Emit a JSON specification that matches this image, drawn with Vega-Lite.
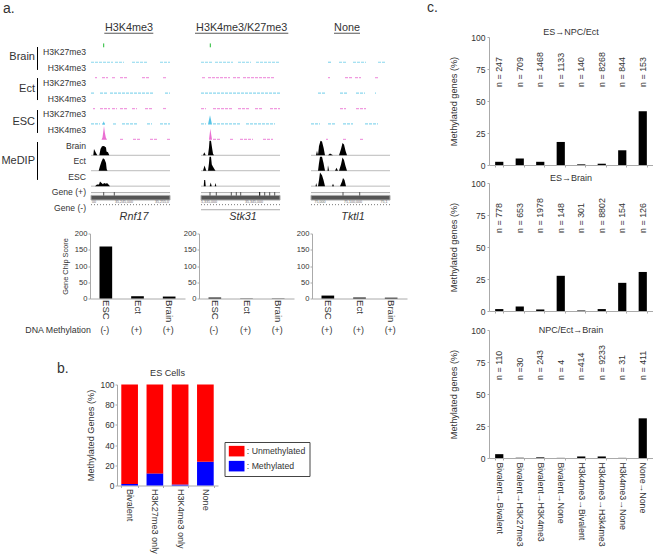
{"$schema":"https://vega.github.io/schema/vega-lite/v6.json","padding":0,"background":"white","autosize":{"type":"pad"},
"config":{"view":{"stroke":null},"font":"Liberation Sans","title":{"fontWeight":"normal","color":"#333","font":"Liberation Sans"},"axis":{"domainColor":"#aaa","tickColor":"#aaa","labelColor":"#333","titleColor":"#333","labelFont":"Liberation Sans","titleFont":"Liberation Sans","titleFontWeight":"normal","grid":false,"tickSize":2,"labelPadding":1,"labelOverlap":false},"text":{"color":"#333","font":"Liberation Sans"}},
"datasets":{
"labels":[
{"kind":"letter","col":"group","idx":-1.76,"text":"a."},
{"kind":"group","col":"group","idx":1.32,"text":"Brain"},{"kind":"group","col":"group","idx":3.37,"text":"Ect"},{"kind":"group","col":"group","idx":5.49,"text":"ESC"},{"kind":"group","col":"group","idx":7.99,"text":"MeDIP"},
{"kind":"bar","col":"group","idx":0.68,"idx2":2.15},{"kind":"bar","col":"group","idx":2.67,"idx2":4.08},{"kind":"bar","col":"group","idx":4.72,"idx2":6.19},{"kind":"bar","col":"group","idx":6.77,"idx2":9.2},
{"kind":"track","col":"track","idx":1,"text":"H3K27me3"},{"kind":"track","col":"track","idx":2,"text":"H3K4me3"},{"kind":"track","col":"track","idx":3,"text":"H3K27me3"},{"kind":"track","col":"track","idx":4,"text":"H3K4me3"},{"kind":"track","col":"track","idx":5,"text":"H3K27me3"},{"kind":"track","col":"track","idx":6,"text":"H3K4me3"},{"kind":"track","col":"track","idx":7,"text":"Brain"},{"kind":"track","col":"track","idx":8,"text":"Ect"},{"kind":"track","col":"track","idx":9,"text":"ESC"},{"kind":"track","col":"track","idx":10,"text":"Gene (+)"},{"kind":"track","col":"track","idx":11,"text":"Gene (-)"}],
"tracks":[
{"gene":"Rnf17","row":"header","kind":"header","pos":38,"value":0.23,"text":"H3K4me3"},{"gene":"Stk31","row":"header","kind":"header","pos":40.7,"value":0.23,"text":"H3K4me3/K27me3"},{"gene":"Tktl1","row":"header","kind":"header","pos":36,"value":0.23,"text":"None"},
{"gene":"Rnf17","row":"header","kind":"line","series":"dark","start":13.3,"end":62.3,"value":-0.09},{"gene":"Stk31","row":"header","kind":"line","series":"dark","start":-6,"end":87.3,"value":-0.09},{"gene":"Tktl1","row":"header","kind":"line","series":"dark","start":23,"end":49,"value":-0.09},
{"gene":"Rnf17","row":"t1","kind":"tick","series":"marker","pos":12.7,"value":0,"value2":0.25},{"gene":"Stk31","row":"t1","kind":"tick","series":"marker","pos":9.3,"value":0,"value2":0.25},
{"gene":"Rnf17","row":"t2","kind":"dash","series":"H3K4me3","start":0,"end":22},{"gene":"Rnf17","row":"t2","kind":"dash","series":"H3K4me3","start":24,"end":33},{"gene":"Rnf17","row":"t2","kind":"dash","series":"H3K4me3","start":41,"end":57},{"gene":"Rnf17","row":"t2","kind":"dash","series":"H3K4me3","start":69,"end":79},
{"gene":"Rnf17","row":"t3","kind":"dash","series":"H3K27me3","start":4,"end":6},{"gene":"Rnf17","row":"t3","kind":"dash","series":"H3K27me3","start":11,"end":17},{"gene":"Rnf17","row":"t3","kind":"dash","series":"H3K27me3","start":21,"end":24},{"gene":"Rnf17","row":"t3","kind":"dash","series":"H3K27me3","start":29,"end":37},{"gene":"Rnf17","row":"t3","kind":"dash","series":"H3K27me3","start":51,"end":59},{"gene":"Rnf17","row":"t3","kind":"dash","series":"H3K27me3","start":72,"end":75},
{"gene":"Rnf17","row":"t4","kind":"dash","series":"H3K4me3","start":0,"end":4},{"gene":"Rnf17","row":"t4","kind":"dash","series":"H3K4me3","start":9,"end":16},{"gene":"Rnf17","row":"t4","kind":"dash","series":"H3K4me3","start":19,"end":62},{"gene":"Rnf17","row":"t4","kind":"dash","series":"H3K4me3","start":74,"end":79},
{"gene":"Rnf17","row":"t5","kind":"dash","series":"H3K27me3","start":2,"end":4},{"gene":"Rnf17","row":"t5","kind":"dash","series":"H3K27me3","start":9,"end":19},{"gene":"Rnf17","row":"t5","kind":"dash","series":"H3K27me3","start":21,"end":26},{"gene":"Rnf17","row":"t5","kind":"dash","series":"H3K27me3","start":29,"end":37},{"gene":"Rnf17","row":"t5","kind":"dash","series":"H3K27me3","start":41,"end":46},{"gene":"Rnf17","row":"t5","kind":"dash","series":"H3K27me3","start":54,"end":61},{"gene":"Rnf17","row":"t5","kind":"dash","series":"H3K27me3","start":72,"end":76},
{"gene":"Rnf17","row":"t6","kind":"dash","series":"H3K4me3","start":0,"end":9},{"gene":"Rnf17","row":"t6","kind":"dash","series":"H3K4me3","start":11,"end":14},{"gene":"Rnf17","row":"t6","kind":"dash","series":"H3K4me3","start":22,"end":26},{"gene":"Rnf17","row":"t6","kind":"dash","series":"H3K4me3","start":31,"end":47},{"gene":"Rnf17","row":"t6","kind":"dash","series":"H3K4me3","start":56,"end":61},{"gene":"Rnf17","row":"t6","kind":"dash","series":"H3K4me3","start":69,"end":79},
{"gene":"Rnf17","row":"t7","kind":"dash","series":"H3K27me3","start":29,"end":32},{"gene":"Rnf17","row":"t7","kind":"dash","series":"H3K27me3","start":42,"end":49},{"gene":"Rnf17","row":"t7","kind":"dash","series":"H3K27me3","start":59,"end":66},{"gene":"Rnf17","row":"t7","kind":"dash","series":"H3K27me3","start":76,"end":79},
{"gene":"Rnf17","row":"t6","kind":"peak","series":"H3K4me3","peak":"a","pos":11.5,"value":0},{"gene":"Rnf17","row":"t6","kind":"peak","series":"H3K4me3","peak":"a","pos":12.7,"value":0.2},{"gene":"Rnf17","row":"t6","kind":"peak","series":"H3K4me3","peak":"a","pos":14,"value":0},
{"gene":"Rnf17","row":"t7","kind":"peak","series":"H3K27me3","peak":"a","pos":10.5,"value":0},{"gene":"Rnf17","row":"t7","kind":"peak","series":"H3K27me3","peak":"a","pos":11.5,"value":0.15},{"gene":"Rnf17","row":"t7","kind":"peak","series":"H3K27me3","peak":"a","pos":12.2,"value":0.5},{"gene":"Rnf17","row":"t7","kind":"peak","series":"H3K27me3","peak":"a","pos":13,"value":0.9},{"gene":"Rnf17","row":"t7","kind":"peak","series":"H3K27me3","peak":"a","pos":13.8,"value":0.5},{"gene":"Rnf17","row":"t7","kind":"peak","series":"H3K27me3","peak":"a","pos":14.8,"value":0.15},{"gene":"Rnf17","row":"t7","kind":"peak","series":"H3K27me3","peak":"a","pos":16,"value":0},
{"gene":"Rnf17","row":"m1","kind":"base","start":0,"end":79,"value":0},{"gene":"Rnf17","row":"m2","kind":"base","start":0,"end":79,"value":0},{"gene":"Rnf17","row":"m3","kind":"base","start":0,"end":79,"value":0},
{"gene":"Stk31","row":"m1","kind":"base","start":0,"end":79,"value":0},{"gene":"Stk31","row":"m2","kind":"base","start":0,"end":79,"value":0},{"gene":"Stk31","row":"m3","kind":"base","start":0,"end":79,"value":0},
{"gene":"Tktl1","row":"m1","kind":"base","start":0,"end":79,"value":0},{"gene":"Tktl1","row":"m2","kind":"base","start":0,"end":79,"value":0},{"gene":"Tktl1","row":"m3","kind":"base","start":0,"end":79,"value":0},
{"gene":"Rnf17","row":"m1","kind":"peak","series":"DNA","peak":"a","pos":2.3,"value":0},{"gene":"Rnf17","row":"m1","kind":"peak","series":"DNA","peak":"a","pos":3,"value":0.4},{"gene":"Rnf17","row":"m1","kind":"peak","series":"DNA","peak":"a","pos":5,"value":0.15},{"gene":"Rnf17","row":"m1","kind":"peak","series":"DNA","peak":"a","pos":6.3,"value":0},
{"gene":"Rnf17","row":"m1","kind":"peak","series":"DNA","peak":"b","pos":8.3,"value":0},{"gene":"Rnf17","row":"m1","kind":"peak","series":"DNA","peak":"b","pos":9.5,"value":0.4},{"gene":"Rnf17","row":"m1","kind":"peak","series":"DNA","peak":"b","pos":11,"value":0.58},{"gene":"Rnf17","row":"m1","kind":"peak","series":"DNA","peak":"b","pos":13,"value":0.6},{"gene":"Rnf17","row":"m1","kind":"peak","series":"DNA","peak":"b","pos":15,"value":0.5},{"gene":"Rnf17","row":"m1","kind":"peak","series":"DNA","peak":"b","pos":15.5,"value":0.25},{"gene":"Rnf17","row":"m1","kind":"peak","series":"DNA","peak":"b","pos":17,"value":0.2},{"gene":"Rnf17","row":"m1","kind":"peak","series":"DNA","peak":"b","pos":18.3,"value":0},
{"gene":"Rnf17","row":"m2","kind":"peak","series":"DNA","peak":"a","pos":7.7,"value":0},{"gene":"Rnf17","row":"m2","kind":"peak","series":"DNA","peak":"a","pos":9,"value":0.3},{"gene":"Rnf17","row":"m2","kind":"peak","series":"DNA","peak":"a","pos":10.5,"value":0.6},{"gene":"Rnf17","row":"m2","kind":"peak","series":"DNA","peak":"a","pos":12,"value":0.8},{"gene":"Rnf17","row":"m2","kind":"peak","series":"DNA","peak":"a","pos":13.5,"value":0.75},{"gene":"Rnf17","row":"m2","kind":"peak","series":"DNA","peak":"a","pos":15,"value":0.5},{"gene":"Rnf17","row":"m2","kind":"peak","series":"DNA","peak":"a","pos":15.7,"value":0.1},{"gene":"Rnf17","row":"m2","kind":"peak","series":"DNA","peak":"a","pos":16.5,"value":0},
{"gene":"Rnf17","row":"m3","kind":"peak","series":"DNA","peak":"a","pos":4,"value":0},{"gene":"Rnf17","row":"m3","kind":"peak","series":"DNA","peak":"a","pos":6,"value":0.1},{"gene":"Rnf17","row":"m3","kind":"peak","series":"DNA","peak":"a","pos":8,"value":0.1},{"gene":"Rnf17","row":"m3","kind":"peak","series":"DNA","peak":"a","pos":9,"value":0.3},{"gene":"Rnf17","row":"m3","kind":"peak","series":"DNA","peak":"a","pos":10,"value":0.24},{"gene":"Rnf17","row":"m3","kind":"peak","series":"DNA","peak":"a","pos":12,"value":0.12},{"gene":"Rnf17","row":"m3","kind":"peak","series":"DNA","peak":"a","pos":13,"value":0.2},{"gene":"Rnf17","row":"m3","kind":"peak","series":"DNA","peak":"a","pos":15,"value":0.15},{"gene":"Rnf17","row":"m3","kind":"peak","series":"DNA","peak":"a","pos":16,"value":0.2},{"gene":"Rnf17","row":"m3","kind":"peak","series":"DNA","peak":"a","pos":17.5,"value":0.1},{"gene":"Rnf17","row":"m3","kind":"peak","series":"DNA","peak":"a","pos":19,"value":0},
{"gene":"Stk31","row":"t2","kind":"dash","series":"H3K4me3","start":0,"end":12},{"gene":"Stk31","row":"t2","kind":"dash","series":"H3K4me3","start":14,"end":32},{"gene":"Stk31","row":"t2","kind":"dash","series":"H3K4me3","start":37,"end":50},{"gene":"Stk31","row":"t2","kind":"dash","series":"H3K4me3","start":55,"end":79},
{"gene":"Stk31","row":"t3","kind":"dash","series":"H3K27me3","start":1,"end":5},{"gene":"Stk31","row":"t3","kind":"dash","series":"H3K27me3","start":7,"end":29},{"gene":"Stk31","row":"t3","kind":"dash","series":"H3K27me3","start":32,"end":39},{"gene":"Stk31","row":"t3","kind":"dash","series":"H3K27me3","start":42,"end":49},{"gene":"Stk31","row":"t3","kind":"dash","series":"H3K27me3","start":50,"end":74},
{"gene":"Stk31","row":"t4","kind":"dash","series":"H3K4me3","start":0,"end":79},
{"gene":"Stk31","row":"t5","kind":"dash","series":"H3K27me3","start":0,"end":5},{"gene":"Stk31","row":"t5","kind":"dash","series":"H3K27me3","start":12,"end":32},{"gene":"Stk31","row":"t5","kind":"dash","series":"H3K27me3","start":37,"end":49},{"gene":"Stk31","row":"t5","kind":"dash","series":"H3K27me3","start":54,"end":62},{"gene":"Stk31","row":"t5","kind":"dash","series":"H3K27me3","start":69,"end":79},
{"gene":"Stk31","row":"t6","kind":"dash","series":"H3K4me3","start":0,"end":5},{"gene":"Stk31","row":"t6","kind":"dash","series":"H3K4me3","start":12,"end":39},{"gene":"Stk31","row":"t6","kind":"dash","series":"H3K4me3","start":45,"end":74},
{"gene":"Stk31","row":"t7","kind":"dash","series":"H3K27me3","start":12,"end":19},{"gene":"Stk31","row":"t7","kind":"dash","series":"H3K27me3","start":29,"end":32},{"gene":"Stk31","row":"t7","kind":"dash","series":"H3K27me3","start":39,"end":52},{"gene":"Stk31","row":"t7","kind":"dash","series":"H3K27me3","start":62,"end":72},
{"gene":"Stk31","row":"t6","kind":"peak","series":"H3K4me3","peak":"a","pos":7,"value":0},{"gene":"Stk31","row":"t6","kind":"peak","series":"H3K4me3","peak":"a","pos":8,"value":0.3},{"gene":"Stk31","row":"t6","kind":"peak","series":"H3K4me3","peak":"a","pos":9,"value":0.6},{"gene":"Stk31","row":"t6","kind":"peak","series":"H3K4me3","peak":"a","pos":10,"value":0.3},{"gene":"Stk31","row":"t6","kind":"peak","series":"H3K4me3","peak":"a","pos":11,"value":0},
{"gene":"Stk31","row":"t7","kind":"peak","series":"H3K27me3","peak":"a","pos":8,"value":0},{"gene":"Stk31","row":"t7","kind":"peak","series":"H3K27me3","peak":"a","pos":9.3,"value":0.72},{"gene":"Stk31","row":"t7","kind":"peak","series":"H3K27me3","peak":"a","pos":11,"value":0},
{"gene":"Stk31","row":"m1","kind":"peak","series":"DNA","peak":"a","pos":7,"value":0},{"gene":"Stk31","row":"m1","kind":"peak","series":"DNA","peak":"a","pos":8,"value":0.5},{"gene":"Stk31","row":"m1","kind":"peak","series":"DNA","peak":"a","pos":8.5,"value":0.95},{"gene":"Stk31","row":"m1","kind":"peak","series":"DNA","peak":"a","pos":10,"value":0.95},{"gene":"Stk31","row":"m1","kind":"peak","series":"DNA","peak":"a","pos":11,"value":0.5},{"gene":"Stk31","row":"m1","kind":"peak","series":"DNA","peak":"a","pos":12,"value":0.1},{"gene":"Stk31","row":"m1","kind":"peak","series":"DNA","peak":"a","pos":13,"value":0},
{"gene":"Stk31","row":"m1","kind":"peak","series":"DNA","peak":"b","pos":2,"value":0},{"gene":"Stk31","row":"m1","kind":"peak","series":"DNA","peak":"b","pos":3.3,"value":0.2},{"gene":"Stk31","row":"m1","kind":"peak","series":"DNA","peak":"b","pos":4.7,"value":0},
{"gene":"Stk31","row":"m2","kind":"peak","series":"DNA","peak":"a","pos":7,"value":0},{"gene":"Stk31","row":"m2","kind":"peak","series":"DNA","peak":"a","pos":8,"value":0.5},{"gene":"Stk31","row":"m2","kind":"peak","series":"DNA","peak":"a","pos":8.5,"value":0.9},{"gene":"Stk31","row":"m2","kind":"peak","series":"DNA","peak":"a","pos":10,"value":0.9},{"gene":"Stk31","row":"m2","kind":"peak","series":"DNA","peak":"a","pos":10.8,"value":0.4},{"gene":"Stk31","row":"m2","kind":"peak","series":"DNA","peak":"a","pos":12,"value":0.25},{"gene":"Stk31","row":"m2","kind":"peak","series":"DNA","peak":"a","pos":13.5,"value":0.1},{"gene":"Stk31","row":"m2","kind":"peak","series":"DNA","peak":"a","pos":14.5,"value":0},
{"gene":"Stk31","row":"m2","kind":"peak","series":"DNA","peak":"b","pos":2,"value":0},{"gene":"Stk31","row":"m2","kind":"peak","series":"DNA","peak":"b","pos":3.5,"value":0.33},{"gene":"Stk31","row":"m2","kind":"peak","series":"DNA","peak":"b","pos":5.3,"value":0},
{"gene":"Stk31","row":"m3","kind":"peak","series":"DNA","peak":"a","pos":2.7,"value":0},{"gene":"Stk31","row":"m3","kind":"peak","series":"DNA","peak":"a","pos":3.2,"value":0.4},{"gene":"Stk31","row":"m3","kind":"peak","series":"DNA","peak":"a","pos":4.2,"value":0.4},{"gene":"Stk31","row":"m3","kind":"peak","series":"DNA","peak":"a","pos":4.7,"value":0},
{"gene":"Stk31","row":"m3","kind":"peak","series":"DNA","peak":"b","pos":8.7,"value":0},{"gene":"Stk31","row":"m3","kind":"peak","series":"DNA","peak":"b","pos":9.7,"value":0.24},{"gene":"Stk31","row":"m3","kind":"peak","series":"DNA","peak":"b","pos":10.7,"value":0},
{"gene":"Stk31","row":"m3","kind":"peak","series":"DNA","peak":"c","pos":13.7,"value":0},{"gene":"Stk31","row":"m3","kind":"peak","series":"DNA","peak":"c","pos":14.5,"value":0.2},{"gene":"Stk31","row":"m3","kind":"peak","series":"DNA","peak":"c","pos":15.3,"value":0},
{"gene":"Tktl1","row":"t2","kind":"dash","series":"H3K4me3","start":17,"end":20},{"gene":"Tktl1","row":"t2","kind":"dash","series":"H3K4me3","start":28,"end":35},{"gene":"Tktl1","row":"t2","kind":"dash","series":"H3K4me3","start":42,"end":55},{"gene":"Tktl1","row":"t2","kind":"dash","series":"H3K4me3","start":67,"end":75},
{"gene":"Tktl1","row":"t3","kind":"dash","series":"H3K27me3","start":17,"end":19},{"gene":"Tktl1","row":"t3","kind":"dash","series":"H3K27me3","start":34,"end":42},{"gene":"Tktl1","row":"t3","kind":"dash","series":"H3K27me3","start":44,"end":50},{"gene":"Tktl1","row":"t3","kind":"dash","series":"H3K27me3","start":64,"end":67},
{"gene":"Tktl1","row":"t4","kind":"dash","series":"H3K4me3","start":7,"end":14},{"gene":"Tktl1","row":"t4","kind":"dash","series":"H3K4me3","start":29,"end":37},{"gene":"Tktl1","row":"t4","kind":"dash","series":"H3K4me3","start":45,"end":54},{"gene":"Tktl1","row":"t4","kind":"dash","series":"H3K4me3","start":64,"end":65},
{"gene":"Tktl1","row":"t5","kind":"dash","series":"H3K27me3","start":29,"end":35},{"gene":"Tktl1","row":"t5","kind":"dash","series":"H3K27me3","start":45,"end":55},
{"gene":"Tktl1","row":"t6","kind":"dash","series":"H3K4me3","start":0,"end":9},{"gene":"Tktl1","row":"t6","kind":"dash","series":"H3K4me3","start":17,"end":25},{"gene":"Tktl1","row":"t6","kind":"dash","series":"H3K4me3","start":32,"end":42},{"gene":"Tktl1","row":"t6","kind":"dash","series":"H3K4me3","start":54,"end":67},
{"gene":"Tktl1","row":"t7","kind":"dash","series":"H3K27me3","start":15,"end":17},{"gene":"Tktl1","row":"t7","kind":"dash","series":"H3K27me3","start":32,"end":35},{"gene":"Tktl1","row":"t7","kind":"dash","series":"H3K27me3","start":49,"end":52},
{"gene":"Tktl1","row":"m1","kind":"peak","series":"DNA","peak":"a","pos":7,"value":0},{"gene":"Tktl1","row":"m1","kind":"peak","series":"DNA","peak":"a","pos":8,"value":0.6},{"gene":"Tktl1","row":"m1","kind":"peak","series":"DNA","peak":"a","pos":9.5,"value":0.95},{"gene":"Tktl1","row":"m1","kind":"peak","series":"DNA","peak":"a","pos":11,"value":0.9},{"gene":"Tktl1","row":"m1","kind":"peak","series":"DNA","peak":"a","pos":12.5,"value":0.5},{"gene":"Tktl1","row":"m1","kind":"peak","series":"DNA","peak":"a","pos":14,"value":0},
{"gene":"Tktl1","row":"m1","kind":"peak","series":"DNA","peak":"b","pos":5,"value":0},{"gene":"Tktl1","row":"m1","kind":"peak","series":"DNA","peak":"b","pos":6,"value":0.3},{"gene":"Tktl1","row":"m1","kind":"peak","series":"DNA","peak":"b","pos":7,"value":0},
{"gene":"Tktl1","row":"m1","kind":"peak","series":"DNA","peak":"c","pos":17,"value":0},{"gene":"Tktl1","row":"m1","kind":"peak","series":"DNA","peak":"c","pos":19,"value":0.12},{"gene":"Tktl1","row":"m1","kind":"peak","series":"DNA","peak":"c","pos":22,"value":0},
{"gene":"Tktl1","row":"m1","kind":"peak","series":"DNA","peak":"d","pos":28,"value":0},{"gene":"Tktl1","row":"m1","kind":"peak","series":"DNA","peak":"d","pos":30,"value":0.4},{"gene":"Tktl1","row":"m1","kind":"peak","series":"DNA","peak":"d","pos":31.5,"value":0.8},{"gene":"Tktl1","row":"m1","kind":"peak","series":"DNA","peak":"d","pos":33,"value":0.7},{"gene":"Tktl1","row":"m1","kind":"peak","series":"DNA","peak":"d","pos":34.5,"value":0.3},{"gene":"Tktl1","row":"m1","kind":"peak","series":"DNA","peak":"d","pos":36,"value":0},
{"gene":"Tktl1","row":"m2","kind":"peak","series":"DNA","peak":"a","pos":7,"value":0},{"gene":"Tktl1","row":"m2","kind":"peak","series":"DNA","peak":"a","pos":8,"value":0.5},{"gene":"Tktl1","row":"m2","kind":"peak","series":"DNA","peak":"a","pos":9,"value":0.9},{"gene":"Tktl1","row":"m2","kind":"peak","series":"DNA","peak":"a","pos":11,"value":0.9},{"gene":"Tktl1","row":"m2","kind":"peak","series":"DNA","peak":"a","pos":12.5,"value":0.5},{"gene":"Tktl1","row":"m2","kind":"peak","series":"DNA","peak":"a","pos":14,"value":0},
{"gene":"Tktl1","row":"m2","kind":"peak","series":"DNA","peak":"b","pos":16.5,"value":0},{"gene":"Tktl1","row":"m2","kind":"peak","series":"DNA","peak":"b","pos":17,"value":0.35},{"gene":"Tktl1","row":"m2","kind":"peak","series":"DNA","peak":"b","pos":18,"value":0},
{"gene":"Tktl1","row":"m2","kind":"peak","series":"DNA","peak":"c","pos":24,"value":0},{"gene":"Tktl1","row":"m2","kind":"peak","series":"DNA","peak":"c","pos":25.5,"value":0.2},{"gene":"Tktl1","row":"m2","kind":"peak","series":"DNA","peak":"c","pos":27,"value":0},
{"gene":"Tktl1","row":"m2","kind":"peak","series":"DNA","peak":"d","pos":28,"value":0},{"gene":"Tktl1","row":"m2","kind":"peak","series":"DNA","peak":"d","pos":30,"value":0.4},{"gene":"Tktl1","row":"m2","kind":"peak","series":"DNA","peak":"d","pos":31.5,"value":0.85},{"gene":"Tktl1","row":"m2","kind":"peak","series":"DNA","peak":"d","pos":33,"value":0.7},{"gene":"Tktl1","row":"m2","kind":"peak","series":"DNA","peak":"d","pos":34.5,"value":0.3},{"gene":"Tktl1","row":"m2","kind":"peak","series":"DNA","peak":"d","pos":36,"value":0},
{"gene":"Tktl1","row":"m3","kind":"peak","series":"DNA","peak":"a","pos":7,"value":0},{"gene":"Tktl1","row":"m3","kind":"peak","series":"DNA","peak":"a","pos":8,"value":0.4},{"gene":"Tktl1","row":"m3","kind":"peak","series":"DNA","peak":"a","pos":9,"value":0.88},{"gene":"Tktl1","row":"m3","kind":"peak","series":"DNA","peak":"a","pos":11,"value":0.7},{"gene":"Tktl1","row":"m3","kind":"peak","series":"DNA","peak":"a","pos":12.5,"value":0.4},{"gene":"Tktl1","row":"m3","kind":"peak","series":"DNA","peak":"a","pos":14,"value":0},
{"gene":"Tktl1","row":"m3","kind":"peak","series":"DNA","peak":"b","pos":4.5,"value":0},{"gene":"Tktl1","row":"m3","kind":"peak","series":"DNA","peak":"b","pos":5.2,"value":0.2},{"gene":"Tktl1","row":"m3","kind":"peak","series":"DNA","peak":"b","pos":6,"value":0},
{"gene":"Tktl1","row":"m3","kind":"peak","series":"DNA","peak":"c","pos":21,"value":0},{"gene":"Tktl1","row":"m3","kind":"peak","series":"DNA","peak":"c","pos":22,"value":0.15},{"gene":"Tktl1","row":"m3","kind":"peak","series":"DNA","peak":"c","pos":23,"value":0},
{"gene":"Tktl1","row":"m3","kind":"peak","series":"DNA","peak":"d","pos":29,"value":0},{"gene":"Tktl1","row":"m3","kind":"peak","series":"DNA","peak":"d","pos":31,"value":0.3},{"gene":"Tktl1","row":"m3","kind":"peak","series":"DNA","peak":"d","pos":32,"value":0.52},{"gene":"Tktl1","row":"m3","kind":"peak","series":"DNA","peak":"d","pos":33.5,"value":0.4},{"gene":"Tktl1","row":"m3","kind":"peak","series":"DNA","peak":"d","pos":35,"value":0},
{"gene":"Rnf17","row":"plus","kind":"line","series":"base","start":0,"end":79,"value":0.58},{"gene":"Stk31","row":"plus","kind":"line","series":"base","start":0,"end":79,"value":0.58},{"gene":"Tktl1","row":"plus","kind":"line","series":"base","start":0,"end":79,"value":0.58},
{"gene":"Rnf17","row":"plus","kind":"band","start":0,"end":79,"value":0.1,"value2":0.4},{"gene":"Stk31","row":"plus","kind":"band","start":0,"end":79,"value":0.1,"value2":0.4},{"gene":"Tktl1","row":"plus","kind":"band","start":0,"end":79,"value":0.1,"value2":0.4},
{"gene":"Rnf17","row":"plus","kind":"tick","series":"dark","pos":12.7,"value":0.38,"value2":0.62},{"gene":"Rnf17","row":"plus","kind":"tick","series":"dark","pos":23.3,"value":0.38,"value2":0.62},
{"gene":"Stk31","row":"plus","kind":"tick","series":"dark","pos":9,"value":0.38,"value2":0.62},{"gene":"Stk31","row":"plus","kind":"tick","series":"dark","pos":15.3,"value":0.38,"value2":0.62},{"gene":"Stk31","row":"plus","kind":"tick","series":"dark","pos":30.3,"value":0.38,"value2":0.62},{"gene":"Stk31","row":"plus","kind":"tick","series":"dark","pos":35.3,"value":0.38,"value2":0.62},{"gene":"Stk31","row":"plus","kind":"tick","series":"dark","pos":39.7,"value":0.38,"value2":0.62},{"gene":"Stk31","row":"plus","kind":"tick","series":"DNA","pos":58.7,"value":0.38,"value2":0.62},{"gene":"Stk31","row":"plus","kind":"tick","series":"dark","pos":63.7,"value":0.38,"value2":0.62},{"gene":"Stk31","row":"plus","kind":"tick","series":"dark","pos":68.7,"value":0.38,"value2":0.62},{"gene":"Stk31","row":"plus","kind":"tick","series":"dark","pos":73.7,"value":0.38,"value2":0.62},
{"gene":"Tktl1","row":"plus","kind":"tick","series":"dark","pos":32,"value":0.38,"value2":0.62},{"gene":"Tktl1","row":"plus","kind":"tick","series":"dark","pos":48.7,"value":0.38,"value2":0.62},
{"gene":"Rnf17","row":"minus","kind":"ruler","start":0,"end":79,"value":0.8},{"gene":"Stk31","row":"minus","kind":"ruler","start":0,"end":79,"value":0.8},{"gene":"Tktl1","row":"minus","kind":"ruler","start":0,"end":79,"value":0.8},
{"gene":"Stk31","row":"minus","kind":"line","series":"base","start":0,"end":79,"value":0.47},
{"gene":"Rnf17","row":"minus","kind":"tiny","pos":3,"value":0.96,"text":"00"},{"gene":"Rnf17","row":"minus","kind":"tiny","pos":33,"value":0.96,"text":"35,245,000"},{"gene":"Rnf17","row":"minus","kind":"tiny","pos":71,"value":0.96,"text":"35,255,0"},
{"gene":"Stk31","row":"minus","kind":"tiny","pos":8,"value":0.96,"text":"5,335,000"},{"gene":"Stk31","row":"minus","kind":"tiny","pos":53,"value":0.96,"text":"35,345,000"},
{"gene":"Tktl1","row":"minus","kind":"tiny","pos":9,"value":0.96,"text":"75,000"},{"gene":"Tktl1","row":"minus","kind":"tiny","pos":42,"value":0.96,"text":"75,100,000"},{"gene":"Tktl1","row":"minus","kind":"tiny","pos":73,"value":0.96,"text":"75,1"},
{"gene":"Rnf17","row":"minus","kind":"name","pos":43,"value":0,"text":"Rnf17"},{"gene":"Stk31","row":"minus","kind":"name","pos":42,"value":0,"text":"Stk31"},{"gene":"Tktl1","row":"minus","kind":"name","pos":42,"value":0,"text":"Tktl1"}
],
"chip":[
{"gene":"Rnf17","tissue":"ESC","score":160,"meth":"(-)"},{"gene":"Rnf17","tissue":"Ect","score":7,"meth":"(+)"},{"gene":"Rnf17","tissue":"Brain","score":6,"meth":"(+)"},
{"gene":"Stk31","tissue":"ESC","score":3,"meth":"(-)"},{"gene":"Stk31","tissue":"Ect","score":0.7,"meth":"(+)"},{"gene":"Stk31","tissue":"Brain","score":0.7,"meth":"(+)"},
{"gene":"Tktl1","tissue":"ESC","score":9,"meth":"(+)"},{"gene":"Tktl1","tissue":"Ect","score":3,"meth":"(+)"},{"gene":"Tktl1","tissue":"Brain","score":2.5,"meth":"(+)"}],
"meth":[
{"panel":"ES→NPC/Ect","trans":"Bivalent→Bivalent","pct":2.5,"n":"n = 247"},{"panel":"ES→NPC/Ect","trans":"Bivalent→H3K27me3","pct":5,"n":"n = 709"},{"panel":"ES→NPC/Ect","trans":"Bivalent→H3K4me3","pct":2.5,"n":"n = 1468"},{"panel":"ES→NPC/Ect","trans":"Bivalent→None","pct":18,"n":"n = 1133"},{"panel":"ES→NPC/Ect","trans":"H3k4me3→Bivalent","pct":0.5,"n":"n = 140"},{"panel":"ES→NPC/Ect","trans":"H3k4me3→H3k4me3","pct":1,"n":"n = 8268"},{"panel":"ES→NPC/Ect","trans":"H3k4me3→None","pct":11.5,"n":"n = 844"},{"panel":"ES→NPC/Ect","trans":"None→None","pct":42,"n":"n = 153"},
{"panel":"ES→Brain","trans":"Bivalent→Bivalent","pct":1.5,"n":"n = 778"},{"panel":"ES→Brain","trans":"Bivalent→H3K27me3","pct":3.5,"n":"n = 653"},{"panel":"ES→Brain","trans":"Bivalent→H3K4me3","pct":1.2,"n":"n = 1978"},{"panel":"ES→Brain","trans":"Bivalent→None","pct":27.5,"n":"n = 148"},{"panel":"ES→Brain","trans":"H3k4me3→Bivalent","pct":0.4,"n":"n = 301"},{"panel":"ES→Brain","trans":"H3k4me3→H3k4me3","pct":1.5,"n":"n = 8802"},{"panel":"ES→Brain","trans":"H3k4me3→None","pct":22,"n":"n = 154"},{"panel":"ES→Brain","trans":"None→None","pct":30.5,"n":"n = 126"},
{"panel":"NPC/Ect→Brain","trans":"Bivalent→Bivalent","pct":3,"n":"n = 110"},{"panel":"NPC/Ect→Brain","trans":"Bivalent→H3K27me3","pct":0.2,"n":"n =30"},{"panel":"NPC/Ect→Brain","trans":"Bivalent→H3K4me3","pct":0.5,"n":"n = 243"},{"panel":"NPC/Ect→Brain","trans":"Bivalent→None","pct":0.1,"n":"n = 4"},{"panel":"NPC/Ect→Brain","trans":"H3k4me3→Bivalent","pct":1.2,"n":"n =414"},{"panel":"NPC/Ect→Brain","trans":"H3k4me3→H3k4me3","pct":1.2,"n":"n = 9233"},{"panel":"NPC/Ect→Brain","trans":"H3k4me3→None","pct":0.1,"n":"n = 31"},{"panel":"NPC/Ect→Brain","trans":"None→None","pct":31,"n":"n = 411"}],
"empty":[{}]
},
"bounds":"full","spacing":20,"resolve":{"scale":{"color":"independent"}},
"hconcat":[
{"bounds":"full","spacing":26.5,"resolve":{"scale":{"color":"independent"}},"vconcat":[
 {"bounds":"full","spacing":7.5,"resolve":{"scale":{"color":"independent"}},"vconcat":[
  {"bounds":"flush","spacing":0,"resolve":{"scale":{"color":"independent"}},"hconcat":[
   {"width":91,"height":216,"data":{"name":"labels"},
    "encoding":{"x":{"field":"col","type":"nominal","axis":null,"scale":{"type":"point","domain":["group","track"],"range":[37.5,86],"padding":0}},"y":{"field":"idx","type":"quantitative","axis":null,"scale":{"domain":[-2.269,11.577],"reverse":true,"nice":false,"zero":false}}},
    "layer":[
     {"transform":[{"filter":"datum.kind==='track'"}],"mark":{"type":"text","align":"right","baseline":"middle","fontSize":8.6},"encoding":{"text":{"field":"text"}}},
     {"transform":[{"filter":"datum.kind==='group'"}],"mark":{"type":"text","align":"right","baseline":"middle","fontSize":11,"dx":-2.5},"encoding":{"text":{"field":"text"}}},
     {"transform":[{"filter":"datum.kind==='letter'"}],"mark":{"type":"text","align":"left","baseline":"middle","fontSize":14,"dx":-34.5},"encoding":{"text":{"field":"text"}}},
     {"transform":[{"filter":"datum.kind==='bar'"}],"mark":{"type":"rule","color":"black","strokeWidth":1},"encoding":{"y2":{"field":"idx2"}}}
    ]},
   {"width":301,"height":216,"data":{"name":"tracks"},
    "transform":[
     {"calculate":"{'Rnf17':0,'Stk31':110,'Tktl1':220}[datum.gene]","as":"offset"},
     {"calculate":"13-indexof(['blank','header','t1','t2','t3','t4','t5','t6','t7','m1','m2','m3','plus','minus'],datum.row)","as":"base"},
     {"calculate":"datum.offset+datum.start","as":"x1"},{"calculate":"datum.offset+datum.end","as":"x2"},{"calculate":"datum.offset+datum.pos","as":"xp"},
     {"calculate":"datum.base+datum.value","as":"y1"},{"calculate":"datum.base+datum.value2","as":"y2"},{"calculate":"datum.base+0.03","as":"yd"},
     {"calculate":"datum.gene+datum.row+datum.peak","as":"key"}],
    "layer":[
     {"transform":[{"filter":"datum.kind==='base'"}],"mark":{"type":"rule","color":"#bbb","strokeWidth":1},"encoding":{"x":{"field":"x1","type":"quantitative","axis":null,"scale":{"domain":[0,301],"nice":false,"zero":false}},"x2":{"field":"x2"},"y":{"field":"y1","type":"quantitative","axis":null,"scale":{"domain":[0,14],"nice":false,"zero":false}}}},
     {"transform":[{"filter":"datum.kind==='line'"}],"mark":{"type":"rule","strokeWidth":1},"encoding":{"x":{"field":"x1","type":"quantitative","axis":null},"x2":{"field":"x2"},"y":{"field":"y1","type":"quantitative","axis":null},"color":{"field":"series","legend":null,"scale":{"domain":["H3K4me3","H3K27me3","DNA","marker","dark","base"],"range":["#58c4e6","#ea6fd2","#000000","#22bb33","#555555","#aaaaaa"]}}}},
     {"transform":[{"filter":"datum.kind==='band'"}],"mark":{"type":"rect","color":"#555","stroke":"#aaa","strokeWidth":1},"encoding":{"x":{"field":"x1","type":"quantitative","axis":null},"x2":{"field":"x2"},"y":{"field":"y1","type":"quantitative","axis":null},"y2":{"field":"y2"}}},
     {"transform":[{"filter":"datum.kind==='ruler'"}],"mark":{"type":"rule","color":"#555","strokeWidth":0.8,"strokeDash":[1,2]},"encoding":{"x":{"field":"x1","type":"quantitative","axis":null},"x2":{"field":"x2"},"y":{"field":"y1","type":"quantitative","axis":null}}},
     {"transform":[{"filter":"datum.kind==='dash'"}],"mark":{"type":"rule","strokeWidth":1.2,"strokeDash":[3,1],"opacity":0.7},"encoding":{"x":{"field":"x1","type":"quantitative","axis":null},"x2":{"field":"x2"},"y":{"field":"yd","type":"quantitative","axis":null},"color":{"field":"series","legend":null}}},
     {"transform":[{"filter":"datum.kind==='tick'"}],"mark":{"type":"rule","strokeWidth":1},"encoding":{"x":{"field":"xp","type":"quantitative","axis":null},"y":{"field":"y1","type":"quantitative","axis":null},"y2":{"field":"y2"},"color":{"field":"series","legend":null}}},
     {"transform":[{"filter":"datum.kind==='peak'"}],"mark":{"type":"area"},"encoding":{"x":{"field":"xp","type":"quantitative","axis":null},"y":{"field":"y1","type":"quantitative","axis":null,"stack":null},"y2":{"field":"base"},"detail":{"field":"key"},"color":{"field":"series","legend":null}}},
     {"transform":[{"filter":"datum.kind==='header'"}],"mark":{"type":"text","fontSize":10.8,"baseline":"middle"},"encoding":{"x":{"field":"xp","type":"quantitative","axis":null},"y":{"field":"y1","type":"quantitative","axis":null},"text":{"field":"text"}}},
     {"transform":[{"filter":"datum.kind==='name'"}],"mark":{"type":"text","fontSize":10.8,"fontStyle":"italic","baseline":"middle"},"encoding":{"x":{"field":"xp","type":"quantitative","axis":null},"y":{"field":"y1","type":"quantitative","axis":null},"text":{"field":"text"}}},
     {"transform":[{"filter":"datum.kind==='tiny'"}],"mark":{"type":"text","fontSize":3.6,"baseline":"middle","color":"#666"},"encoding":{"x":{"field":"xp","type":"quantitative","axis":null},"y":{"field":"y1","type":"quantitative","axis":null},"text":{"field":"text"}}}
    ]}
  ]},
  {"bounds":"flush","spacing":0,"hconcat":[
   {"width":90,"height":65,"data":{"name":"empty"},"mark":{"type":"point","opacity":0},"encoding":{}},
   {"width":95,"height":65,"data":{"name":"chip"},"transform":[{"filter":"datum.gene==='Rnf17'"}],
    "encoding":{"x":{"field":"tissue","type":"nominal","title":null,"axis":{"labelAngle":90,"labelAlign":"left","labelBaseline":"middle","labelFontSize":9.6,"ticks":false,"labelPadding":1},"scale":{"domain":["ESC","Ect","Brain"],"paddingInner":0.6,"paddingOuter":0.3}}},
    "layer":[
     {"mark":{"type":"bar","color":"black"},"encoding":{"y":{"field":"score","type":"quantitative","title":"Gene Chip Score","scale":{"domain":[0,200]},"axis":{"values":[0,50,100,150,200],"labelFontSize":7.6,"titleFontSize":7.4,"titlePadding":5}}}},
     {"mark":{"type":"text","fontSize":8.8,"dx":-1,"baseline":"middle"},"encoding":{"y":{"datum":-97.4,"type":"quantitative","title":"Gene Chip Score","scale":{"domain":[0,200]},"axis":{"values":[0,50,100,150,200],"labelFontSize":7.6,"titleFontSize":7.4,"titlePadding":5}},"text":{"field":"meth"}}},
     {"data":{"values":[{"t":"DNA Methylation"}]},"mark":{"type":"text","fontSize":8.8,"align":"right","dx":-15,"baseline":"middle"},"encoding":{"x":{"datum":"ESC"},"y":{"datum":-97.4,"type":"quantitative","title":"Gene Chip Score","scale":{"domain":[0,200]},"axis":{"values":[0,50,100,150,200],"labelFontSize":7.6,"titleFontSize":7.4,"titlePadding":5}},"text":{"field":"t"}}}
    ]},
   {"width":14,"height":65,"data":{"name":"empty"},"mark":{"type":"point","opacity":0},"encoding":{}},
   {"width":95,"height":65,"data":{"name":"chip"},"transform":[{"filter":"datum.gene==='Stk31'"}],
    "encoding":{"x":{"field":"tissue","type":"nominal","title":null,"axis":{"labelAngle":90,"labelAlign":"left","labelBaseline":"middle","labelFontSize":9.6,"ticks":false,"labelPadding":1},"scale":{"domain":["ESC","Ect","Brain"],"paddingInner":0.6,"paddingOuter":0.3}}},
    "layer":[
     {"mark":{"type":"bar","color":"black"},"encoding":{"y":{"field":"score","type":"quantitative","title":null,"scale":{"domain":[0,200]},"axis":{"values":[0,50,100,150,200],"labelFontSize":7.6}}}},
     {"mark":{"type":"text","fontSize":8.8,"dx":-1,"baseline":"middle"},"encoding":{"y":{"datum":-97.4,"type":"quantitative","title":null,"scale":{"domain":[0,200]},"axis":{"values":[0,50,100,150,200],"labelFontSize":7.6}},"text":{"field":"meth"}}}
    ]},
   {"width":18,"height":65,"data":{"name":"empty"},"mark":{"type":"point","opacity":0},"encoding":{}},
   {"width":95,"height":65,"data":{"name":"chip"},"transform":[{"filter":"datum.gene==='Tktl1'"}],
    "encoding":{"x":{"field":"tissue","type":"nominal","title":null,"axis":{"labelAngle":90,"labelAlign":"left","labelBaseline":"middle","labelFontSize":9.6,"ticks":false,"labelPadding":1},"scale":{"domain":["ESC","Ect","Brain"],"paddingInner":0.6,"paddingOuter":0.3}}},
    "layer":[
     {"mark":{"type":"bar","color":"black"},"encoding":{"y":{"field":"score","type":"quantitative","title":null,"scale":{"domain":[0,200]},"axis":{"values":[0,50,100,150,200],"labelFontSize":7.6}}}},
     {"mark":{"type":"text","fontSize":8.8,"dx":-1,"baseline":"middle"},"encoding":{"y":{"datum":-97.4,"type":"quantitative","title":null,"scale":{"domain":[0,200]},"axis":{"values":[0,50,100,150,200],"labelFontSize":7.6}},"text":{"field":"meth"}}}
    ]}
  ]}
 ]},
 {"bounds":"flush","spacing":0,"hconcat":[
  {"width":117,"height":101,"data":{"values":[{"t":"b."}]},"mark":{"type":"text","fontSize":14,"align":"left","baseline":"middle"},"encoding":{"x":{"datum":0.487,"type":"quantitative","axis":null,"scale":{"domain":[0,1]}},"y":{"datum":1.158,"type":"quantitative","axis":null,"scale":{"domain":[0,1]}},"text":{"field":"t"}}},
  {"width":101,"height":101,"title":{"text":"ES Cells","fontSize":9.1,"offset":2},
   "data":{"values":[
     {"state":"Bivalent","status":"Methylated","pct":1.5},{"state":"Bivalent","status":"Unmethylated","pct":98.5},
     {"state":"H3K27me3 only","status":"Methylated","pct":12},{"state":"H3K27me3 only","status":"Unmethylated","pct":88},
     {"state":"H3K4me3 only","status":"Methylated","pct":1},{"state":"H3K4me3 only","status":"Unmethylated","pct":99},
     {"state":"None","status":"Methylated","pct":23.5},{"state":"None","status":"Unmethylated","pct":76.5}]},
   "mark":{"type":"bar"},
   "encoding":{"x":{"field":"state","type":"nominal","title":null,"axis":{"labelAngle":90,"labelAlign":"left","labelBaseline":"middle","labelFontSize":9.1,"tickBand":"extent","tickSize":2,"labelPadding":1},"scale":{"domain":["Bivalent","H3K27me3 only","H3K4me3 only","None"],"paddingInner":0.34,"paddingOuter":0.17}},
    "y":{"field":"pct","type":"quantitative","stack":"zero","title":"Methylated Genes (%)","scale":{"domain":[0,100]},"axis":{"values":[0,20,40,60,80,100],"labelFontSize":8.4,"titleFontSize":9.2,"titlePadding":5}},
    "order":{"field":"status","sort":"ascending"},
    "color":{"field":"status","type":"nominal","scale":{"domain":["Unmethylated","Methylated"],"range":["#ff0000","#0000ff"]},
     "legend":{"title":null,"orient":"none","legendX":224.5,"legendY":57.5,"fillColor":"white","strokeColor":"#444","padding":3.65,"rowPadding":4,"symbolType":"M-0.88,-0.96H1.97V0.96H-0.88Z","symbolSize":121,"symbolStrokeWidth":0,"labelOffset":7.65,"labelFontSize":8.7,"labelColor":"#333","labelExpr":"': '+datum.label+'\u00a0\u00a0\u00a0\u00a0\u00a0\u00a0\u00a0\u00a0'"}}}}
 ]}
]},
{"bounds":"flush","spacing":0,"vconcat":[
 {"width":164,"height":36,"data":{"values":[{"t":"c."}]},"mark":{"type":"text","fontSize":14,"align":"left","baseline":"middle"},"encoding":{"x":{"datum":-0.378,"type":"quantitative","axis":null,"scale":{"domain":[0,1]}},"y":{"datum":0.806,"type":"quantitative","axis":null,"scale":{"domain":[0,1]}},"text":{"field":"t"}}},
 {"width":164,"height":128,"data":{"name":"meth"},"transform":[{"filter":"datum.panel==='ES→NPC/Ect'"}],"title":{"text":"ES→NPC/Ect","fontSize":9,"offset":-4},
  "encoding":{"x":{"field":"trans","type":"nominal","title":null,"axis":{"labels":false,"tickBand":"extent"},"scale":{"domain":["Bivalent→Bivalent","Bivalent→H3K27me3","Bivalent→H3K4me3","Bivalent→None","H3k4me3→Bivalent","H3k4me3→H3k4me3","H3k4me3→None","None→None"],"paddingInner":0.6,"paddingOuter":0.3}}},
  "layer":[
   {"mark":{"type":"bar","color":"black"},"encoding":{"y":{"field":"pct","type":"quantitative","title":"Methylated genes (%)","scale":{"domain":[0,100]},"axis":{"values":[0,25,50,75,100],"labelFontSize":8.6,"labelPadding":2,"titleFontSize":9.2,"titlePadding":12.5}}}},
   {"mark":{"type":"text","angle":270,"align":"left","baseline":"middle","fontSize":8.9},"encoding":{"y":{"datum":61,"type":"quantitative","title":"Methylated genes (%)","scale":{"domain":[0,100]},"axis":{"values":[0,25,50,75,100],"labelFontSize":8.6,"labelPadding":2,"titleFontSize":9.2,"titlePadding":12.5}},"text":{"field":"n"}}}
  ]},
 {"width":164,"height":18,"data":{"name":"empty"},"mark":{"type":"point","opacity":0},"encoding":{}},
 {"width":164,"height":128,"data":{"name":"meth"},"transform":[{"filter":"datum.panel==='ES→Brain'"}],"title":{"text":"ES→Brain","fontSize":9,"offset":-4},
  "encoding":{"x":{"field":"trans","type":"nominal","title":null,"axis":{"labels":false,"tickBand":"extent"},"scale":{"domain":["Bivalent→Bivalent","Bivalent→H3K27me3","Bivalent→H3K4me3","Bivalent→None","H3k4me3→Bivalent","H3k4me3→H3k4me3","H3k4me3→None","None→None"],"paddingInner":0.6,"paddingOuter":0.3}}},
  "layer":[
   {"mark":{"type":"bar","color":"black"},"encoding":{"y":{"field":"pct","type":"quantitative","title":"Methylated genes (%)","scale":{"domain":[0,100]},"axis":{"values":[0,25,50,75,100],"labelFontSize":8.6,"labelPadding":2,"titleFontSize":9.2,"titlePadding":12.5}}}},
   {"mark":{"type":"text","angle":270,"align":"left","baseline":"middle","fontSize":8.9},"encoding":{"y":{"datum":61,"type":"quantitative","title":"Methylated genes (%)","scale":{"domain":[0,100]},"axis":{"values":[0,25,50,75,100],"labelFontSize":8.6,"labelPadding":2,"titleFontSize":9.2,"titlePadding":12.5}},"text":{"field":"n"}}}
  ]},
 {"width":164,"height":19,"data":{"name":"empty"},"mark":{"type":"point","opacity":0},"encoding":{}},
 {"width":164,"height":128,"data":{"name":"meth"},"transform":[{"filter":"datum.panel==='NPC/Ect→Brain'"}],"title":{"text":"NPC/Ect→Brain","fontSize":9,"offset":-9},
  "encoding":{"x":{"field":"trans","type":"nominal","title":null,"axis":{"labelAngle":90,"labelAlign":"left","labelBaseline":"middle","labelFontSize":8.8,"tickBand":"extent","labelPadding":2,"labelLimit":200},"scale":{"domain":["Bivalent→Bivalent","Bivalent→H3K27me3","Bivalent→H3K4me3","Bivalent→None","H3k4me3→Bivalent","H3k4me3→H3k4me3","H3k4me3→None","None→None"],"paddingInner":0.6,"paddingOuter":0.3}}},
  "layer":[
   {"mark":{"type":"bar","color":"black"},"encoding":{"y":{"field":"pct","type":"quantitative","title":"Methylated genes (%)","scale":{"domain":[0,100]},"axis":{"values":[0,25,50,75,100],"labelFontSize":8.6,"labelPadding":2,"titleFontSize":9.2,"titlePadding":12.5}}}},
   {"mark":{"type":"text","angle":270,"align":"left","baseline":"middle","fontSize":8.9},"encoding":{"y":{"datum":61,"type":"quantitative","title":"Methylated genes (%)","scale":{"domain":[0,100]},"axis":{"values":[0,25,50,75,100],"labelFontSize":8.6,"labelPadding":2,"titleFontSize":9.2,"titlePadding":12.5}},"text":{"field":"n"}}}
  ]}
]}
]}
